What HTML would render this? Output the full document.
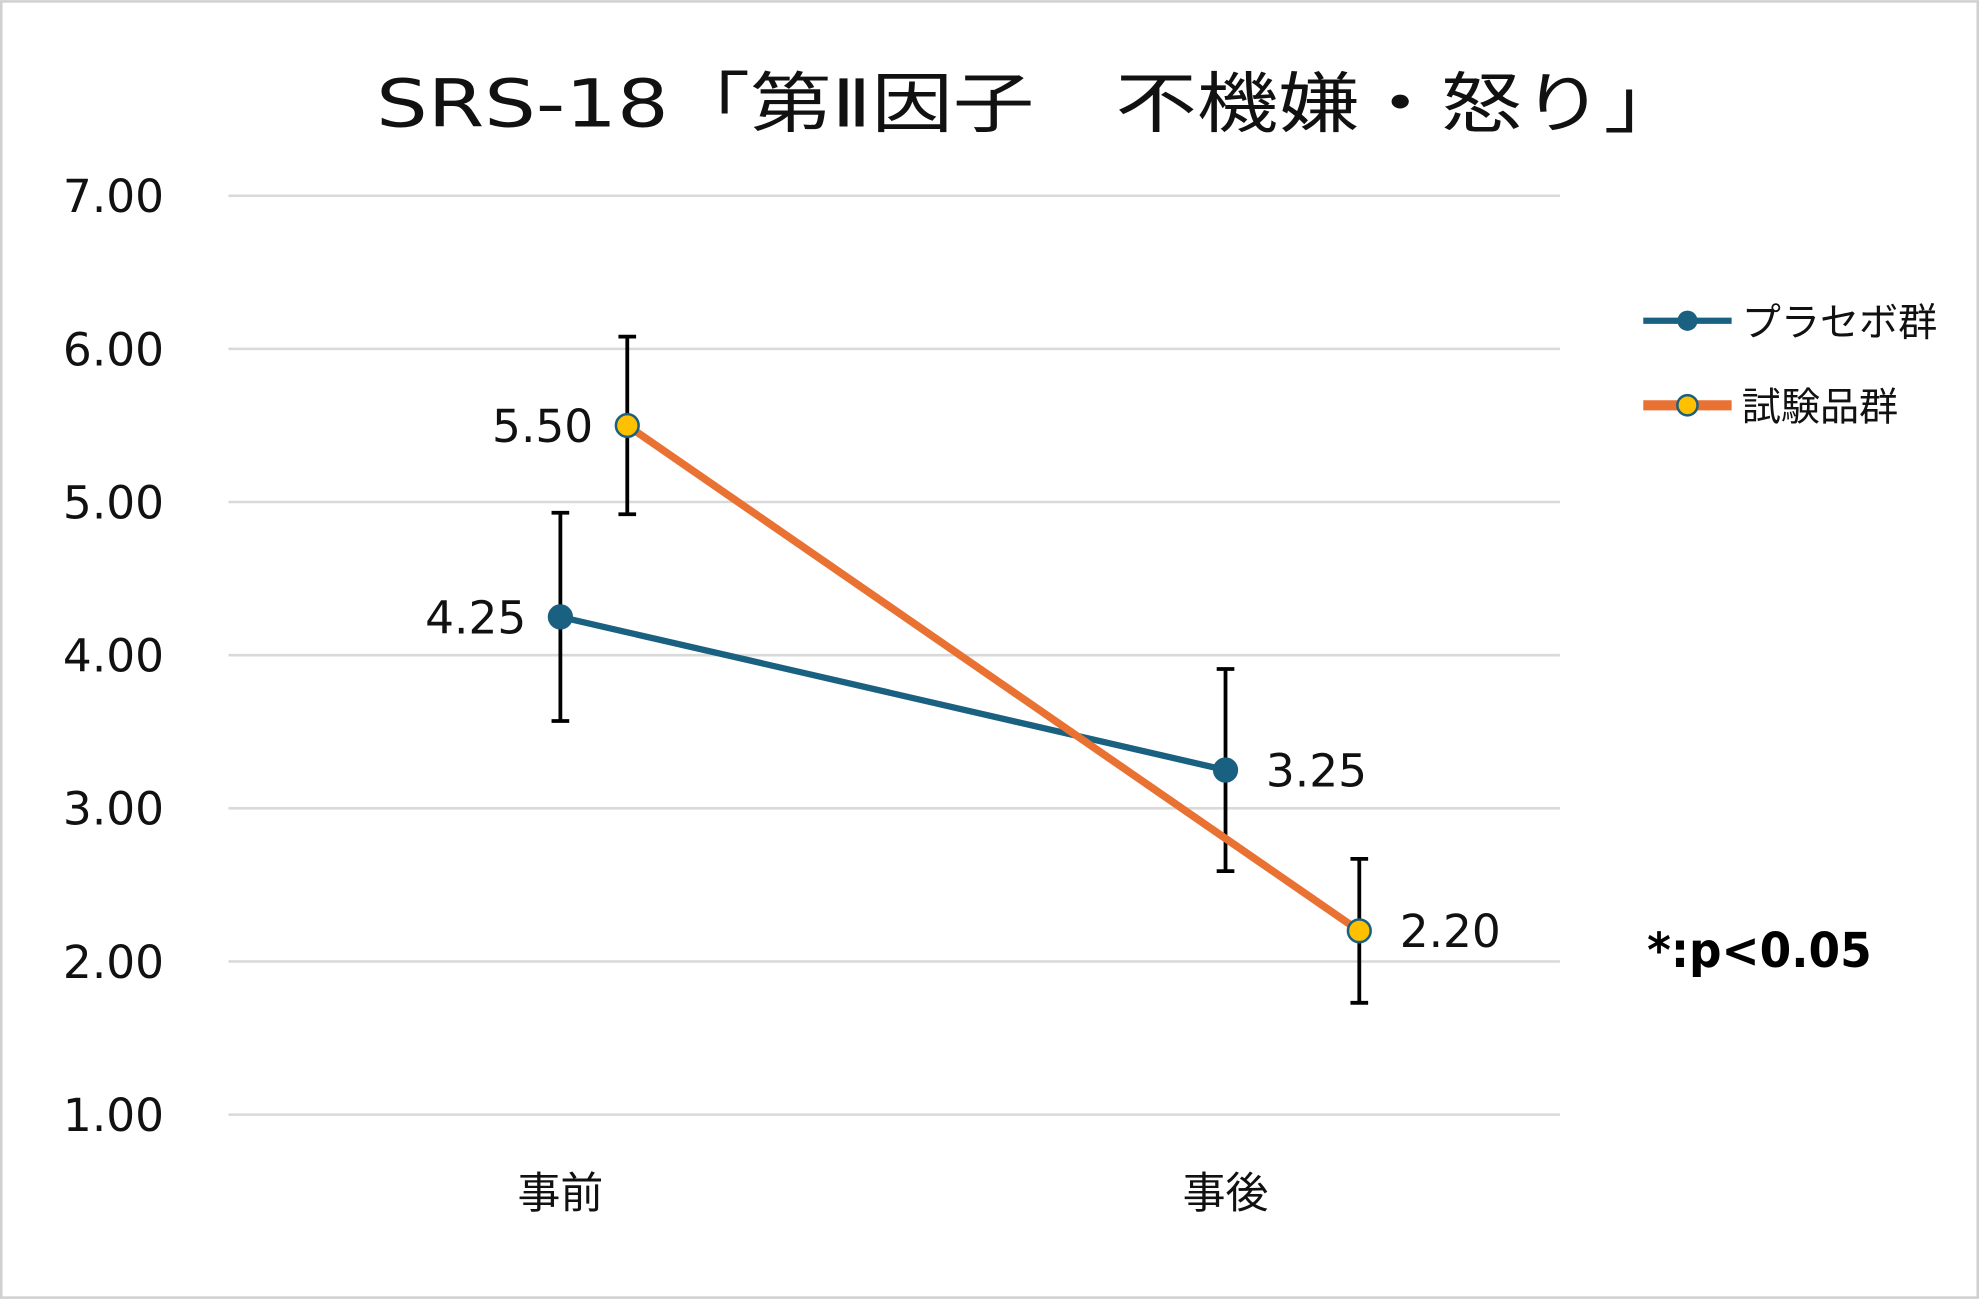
<!DOCTYPE html>
<html><head><meta charset="utf-8"><style>
html,body{margin:0;padding:0;background:#fff;}
svg{display:block;font-family:"DejaVu Sans","Noto Sans CJK JP",sans-serif;}
</style></head><body>
<svg id="chart" width="1979" height="1299" viewBox="0 0 1568 1029">
<rect x="1" y="1" width="1566" height="1027" fill="#fff" stroke="#d0d0d0" stroke-width="2"/>
<text x="298" y="100" font-size="52" textLength="1037" lengthAdjust="spacingAndGlyphs" fill="#111">SRS-18「第Ⅱ因子　不機嫌・怒り」</text>
<g id="grid"></g><g id="yticks"></g><g id="xticks"></g><g id="series"></g>
<g>
<line x1="1302" y1="254" x2="1372" y2="254" stroke="#1a6080" stroke-width="5"/>
<circle cx="1337" cy="254" r="8" fill="#1a6080"/>
<text x="1380" y="266" font-size="31" fill="#111">プラセボ群</text>
<line x1="1302" y1="321" x2="1372" y2="321" stroke="#e97132" stroke-width="8"/>
<circle cx="1337" cy="321" r="8" fill="#ffc000" stroke="#1a6080" stroke-width="2"/>
<text x="1380" y="333" font-size="31" fill="#111">試験品群</text>
</g>
<text x="1305" y="766" font-size="38" font-weight="bold" textLength="178" lengthAdjust="spacingAndGlyphs" fill="#000">*:p&lt;0.05</text>
</svg>
<script>
const categories=["事前","事後"];
const yTicks=[1,2,3,4,5,6,7];
const placebo=[4.25,3.25];
const placeboErr=[0.68,0.66];
const testItem=[5.5,2.2];
const testErr=[0.58,0.47];
const NS="http://www.w3.org/2000/svg";
const X0=181,X1=1236,YTOP=155,YBOT=883,VMIN=1,VMAX=7;
const yS=v=>YBOT-(v-VMIN)/(VMAX-VMIN)*(YBOT-YTOP);
const xS=i=>444+i*527;
function mk(tag,attrs,parent){const e=document.createElementNS(NS,tag);for(const k in attrs)e.setAttribute(k,attrs[k]);parent.appendChild(e);return e;}
const grid=document.getElementById('grid'),yt=document.getElementById('yticks'),xt=document.getElementById('xticks'),sr=document.getElementById('series');
yTicks.forEach(v=>{
 const l=mk('line',{x1:X0,x2:X1,y1:yS(v),y2:yS(v),stroke:'#d9d9d9','stroke-width':2},grid);
 
 
 const t=mk('text',{x:130,y:yS(v)+13,'font-size':36,'text-anchor':'end',fill:'#111'},yt);
 t.textContent=v.toFixed(2);
 
 
});
categories.forEach((c,i)=>{
 const t=mk('text',{x:xS(i),y:957,'font-size':34,'text-anchor':'middle',fill:'#111'},xt);
 t.textContent=c;
 
 
});
function draw(vals,errs,offs,color,w,fill,name,labelSide){
 const pts=vals.map((v,i)=>[xS(i)+offs[i],yS(v)]);
 const pl=mk('polyline',{points:pts.map(p=>p.join(',')).join(' '),fill:'none',stroke:color,'stroke-width':w},sr);
 
 
 vals.forEach((v,i)=>{
  const x=pts[i][0],yt_=yS(v+errs[i]),yb=yS(v-errs[i]);
  const g=mk('g',{stroke:'#000','stroke-width':3},sr);
  
  
  mk('line',{x1:x,x2:x,y1:yt_,y2:yb},g);
  mk('line',{x1:x-7,x2:x+7,y1:yt_,y2:yt_},g);
  mk('line',{x1:x-7,x2:x+7,y1:yb,y2:yb},g);
 });
 vals.forEach((v,i)=>{
  const c=mk('circle',{cx:pts[i][0],cy:pts[i][1],r:9,fill:fill,stroke:'#1a6080','stroke-width':2},sr);
  
  
  const left=labelSide[i]<0;
  const t=mk('text',{x:pts[i][0]+(left?-27:32),y:pts[i][1]+13,'font-size':36,'text-anchor':left?'end':'start',fill:'#111'},sr);
  t.textContent=v.toFixed(2);
  
  
 });
}
draw(placebo,placeboErr,[0,0],'#1a6080',5,'#1a6080','placebo',[-1,1]);
draw(testItem,testErr,[53,106],'#e97132',6,'#ffc000','test-item',[-1,1]);
</script>
</body></html>
